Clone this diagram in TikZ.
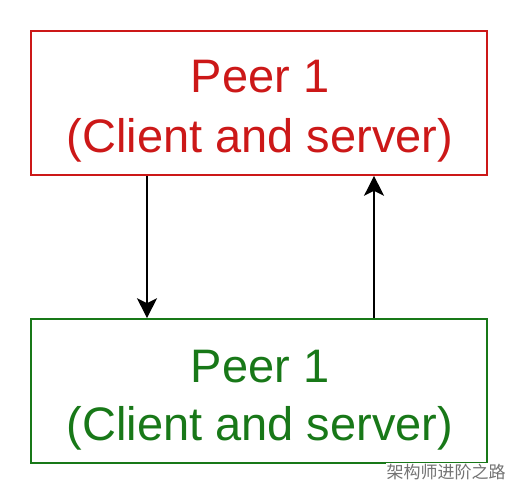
\documentclass[tikz,border=0pt]{standalone}
\usepackage{fontspec}
\setmainfont{Liberation Sans}
\newfontfamily\cjkfont{Noto Sans CJK SC}
\usetikzlibrary{arrows.meta}
\definecolor{peerred}{RGB}{204,24,24}
\definecolor{peergreen}{RGB}{24,120,24}
\tikzset{
  peerbox/.style={draw, line width=1.6bp, minimum width=456bp, minimum height=144bp, inner sep=0pt},
  peertext/.style={anchor=base, inner sep=0pt, font=\fontsize{47bp}{60bp}\selectfont},
  conn/.style={line width=1.4bp, -{Stealth[length=20bp, width=20bp, inset=5bp]}}
}
\begin{document}
\begin{tikzpicture}[x=1bp, y=-1bp]
  \fill[white] (0,0) rectangle (520,496);
  \useasboundingbox (0,0) rectangle (520,496);
  % boxes
  \node[peerbox, draw=peerred] (top) at (259,103) {};
  \node[peerbox, draw=peergreen] (bot) at (259,391) {};
  % texts
  \node[peertext, text=peerred] (t1) at (260,93) {Peer 1};
  \node[peertext, text=peerred] (t2) at (260,153) {(Client and server)};
  \node[peertext, text=peergreen] (b1) at (260,382) {Peer 1};
  \node[peertext, text=peergreen] (b2) at (260,440) {(Client and server)};
  % connectors
  \draw[conn] ([xshift=-112bp]top.south) -- ([xshift=-112bp]bot.north);
  \draw[conn] ([xshift=115bp]bot.north) -- ([xshift=115bp]top.south);
  % watermark
  \node[fill=white, inner sep=1bp, text=black!55, font=\cjkfont\fontsize{17bp}{17bp}\selectfont] (wm) at (446,472) {架构师进阶之路};
\end{tikzpicture}
\end{document}
